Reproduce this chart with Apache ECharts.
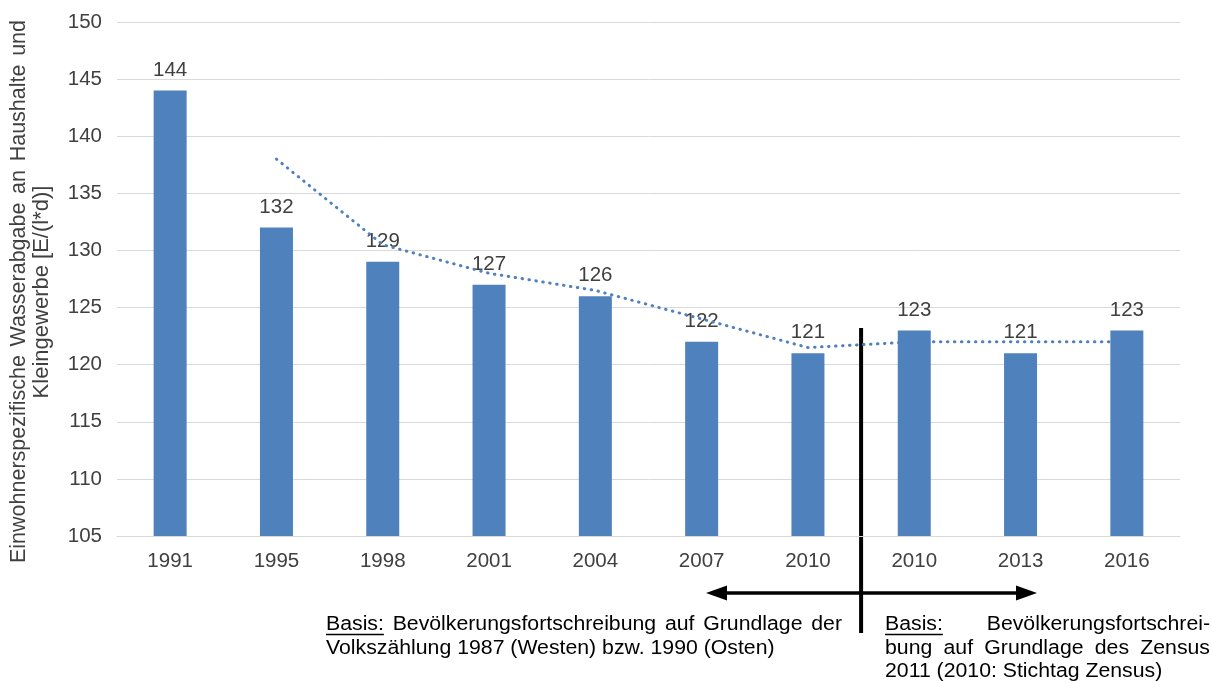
<!DOCTYPE html>
<html>
<head>
<meta charset="utf-8">
<script src="https://cdn.jsdelivr.net/npm/echarts@6/dist/echarts.min.js"></script>
<style>
html,body{margin:0;padding:0;background:#fff;}
#c{width:1211px;height:682px;}
</style>
</head>
<body>
<div id="c"></div>
<script>
const categories = ['1991','1995','1998','2001','2004','2007','2010','2010','2013','2016'];
const values = [144,132,129,127,126,122,121,123,121,123];
const trend = [null,138,130.5,128,126.5,124,121.5,122,122,122];
const yTicks = {min:105, max:150, interval:5};
const yTitle1 = 'Einwohnerspezifische Wasserabgabe an Haushalte und';
const yTitle2 = 'Kleingewerbe [E/(l*d)]';
const noteLeft = ['Basis: Bevölkerungsfortschreibung auf Grundlage der', 'Volkszählung 1987 (Westen) bzw. 1990 (Osten)'];
const noteRight = ['Basis: Bevölkerungsfortschrei-', 'bung auf Grundlage des Zensus', '2011 (2010: Stichtag Zensus)'];

const FONT = '"Liberation Sans", Arial, sans-serif';
const FS = 20.5;
const NFS = 19.5;
const SX = 1.09;
const TFS1 = 21.5;
const TFS2 = 22;
const BLUE = '#4f81bd';
const chart = echarts.init(document.getElementById('c'));
chart.setOption({
  animation:false,
  grid:{left:117,right:31,top:22,bottom:146},
  xAxis:{type:'category',data:categories,
    axisLine:{lineStyle:{color:'#d9d9d9',width:1}},
    axisTick:{show:false},
    axisLabel:{color:'#404040',fontSize:FS,fontFamily:FONT,margin:15}},
  yAxis:{type:'value',min:yTicks.min,max:yTicks.max,interval:yTicks.interval,
    axisLine:{show:false},axisTick:{show:false},
    splitLine:{lineStyle:{color:'#d9d9d9',width:1}},
    axisLabel:{color:'#404040',fontSize:FS,fontFamily:FONT,margin:15}},
  series:[
    {type:'bar',data:values,barWidth:33,itemStyle:{color:BLUE},
     label:{show:true,position:'top',distance:10,color:'#404040',fontSize:FS,fontFamily:FONT}},
    {type:'line',data:trend,symbol:'none',z:5,
     lineStyle:{color:BLUE,width:3,type:[0.5,6.5],cap:'round'}}
  ]
});

const cv = document.createElement('canvas').getContext('2d');
function tw(t,fs){cv.font = fs+'px '+FONT; return cv.measureText(t).width;}
function lineEls(text, x0, x1, y, justify, color, fs, sx){
  const words = text.split(' ');
  const els = [];
  const widths = words.map(w=>tw(w,fs)*sx);
  const total = widths.reduce((a,b)=>a+b,0);
  let gap = tw(' ',fs)*sx;
  if(justify && words.length>1) gap = (x1-x0-total)/(words.length-1);
  let x = x0;
  words.forEach((w,i)=>{
    els.push({type:'text',x:x,y:y,scaleX:sx,style:{text:w,fill:color,font:fs+'px '+FONT,align:'left',verticalAlign:'middle'}});
    if(w==='Basis:'){
      els.push({type:'line',shape:{x1:x,y1:y+9.5,x2:x+widths[i],y2:y+9.5},style:{stroke:color,lineWidth:1.5}});
    }
    x += widths[i]+gap;
  });
  return els;
}

const p6 = chart.convertToPixel({xAxisIndex:0},6);
const p7 = chart.convertToPixel({xAxisIndex:0},7);
const sepX = (p6+p7)/2;
const g = [];
// Y title (rotated)
g.push({type:'group',x:19,y:563,rotation:Math.PI/2,
  children: lineEls(yTitle1,0,543,0,true,'#404040',TFS1,1)});
g.push({type:'group',x:42,y:563,rotation:Math.PI/2,
  children:[{type:'text',x:271,y:0,style:{text:yTitle2,fill:'#404040',font:TFS2+'px '+FONT,align:'center',verticalAlign:'middle'}}]});
// separator line
g.push({type:'line',shape:{x1:sepX,y1:328,x2:sepX,y2:633},style:{stroke:'#000',lineWidth:4}});
// arrow
g.push({type:'line',shape:{x1:724,y1:593,x2:1018,y2:593},style:{stroke:'#000',lineWidth:3.5}});
g.push({type:'polygon',shape:{points:[[706,593],[727,585.5],[727,600.5]]},style:{fill:'#000'}});
g.push({type:'polygon',shape:{points:[[1037,593],[1016,585.5],[1016,600.5]]},style:{fill:'#000'}});
// notes (baselines 632, 656, 679)
const off = 7;
lineEls(noteLeft[0],326,842,632-off,true,'#000',NFS,SX).forEach(e=>g.push(e));
lineEls(noteLeft[1],326,842,656-off,false,'#000',NFS,SX).forEach(e=>g.push(e));
lineEls(noteRight[0],885,1210,632-off,true,'#000',NFS,SX).forEach(e=>g.push(e));
lineEls(noteRight[1],885,1210,656-off,true,'#000',NFS,SX).forEach(e=>g.push(e));
lineEls(noteRight[2],885,1210,679-off,false,'#000',NFS,SX).forEach(e=>g.push(e));
chart.setOption({graphic:g});
</script>
</body>
</html>
